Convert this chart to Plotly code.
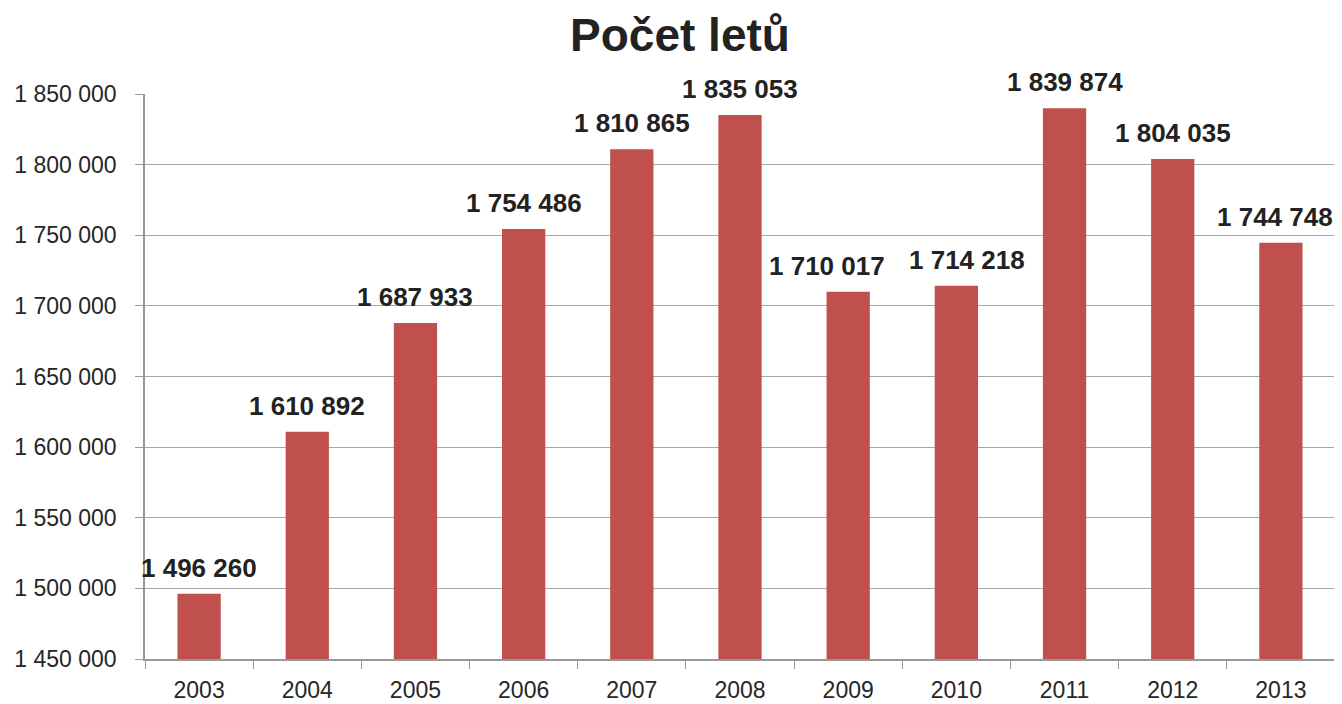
import plotly.graph_objects as go

years = ["2003", "2004", "2005", "2006", "2007", "2008", "2009", "2010", "2011", "2012", "2013"]
flights = [1496260, 1610892, 1687933, 1754486, 1810865, 1835053, 1710017, 1714218, 1839874, 1804035, 1744748]
y_ticks = [1450000, 1500000, 1550000, 1600000, 1650000, 1700000, 1750000, 1800000, 1850000]


def fmt(v):
    return f"{v:,}".replace(",", " ")


# page body has an 8px default margin, so the figure is sized/placed to compensate
W, H = 1334, 696
# horizontal nudges of the value labels (as in the original, to keep 2009/2010 apart)
label_nudge = {"2009": -21, "2010": 11, "2013": -6}

fig = go.Figure(go.Bar(
    x=years, y=flights,
    marker=dict(color="#C0504D", line=dict(width=0)),
    width=0.4,
    cliponaxis=False,
))

# value labels: category index positions on the category axis
for i, (yr, v) in enumerate(zip(years, flights)):
    fig.add_annotation(
        x=i, y=v, xref="x", yref="y", text=f"<b>{fmt(v)}</b>", showarrow=False,
        yanchor="bottom", xanchor="center", yshift=9, xshift=label_nudge.get(yr, 0),
        font=dict(family="Liberation Sans, Arial", size=26, color="#222222"),
    )

fig.update_layout(
    width=W, height=H,
    margin=dict(l=137, r=7, t=86, b=45, autoexpand=False),
    paper_bgcolor="white", plot_bgcolor="white",
    title=dict(text="<b>Počet letů</b>", x=672 / W, xref="container", xanchor="center",
               y=1 - 27 / H, yref="container", yanchor="middle",
               font=dict(family="Liberation Sans, Arial", size=46, color="#222222")),
    showlegend=False,
    font=dict(family="Liberation Sans, Arial", size=23, color="#262626"),
)
fig.update_xaxes(
    type="category", categoryorder="array", categoryarray=years,
    range=[-0.5, len(years) - 0.5],
    tickson="boundaries", ticks="outside", ticklen=8, tickcolor="#999999",
    showline=True, linecolor="#999999", linewidth=1.5, showgrid=False, automargin=False,
    tickfont=dict(size=23, color="#262626"), ticklabelstandoff=10,
)
fig.update_yaxes(
    range=[1450000, 1850000], tickvals=y_ticks, ticktext=[fmt(v) for v in y_ticks],
    ticks="outside", ticklen=8, tickcolor="#999999", automargin=False,
    showline=True, linecolor="#999999", linewidth=1.5,
    showgrid=True, gridcolor="#A6A6A6", gridwidth=1.2, zeroline=False,
    tickfont=dict(size=23, color="#262626"), ticklabelstandoff=14,
)
fig.write_html("out.html")
